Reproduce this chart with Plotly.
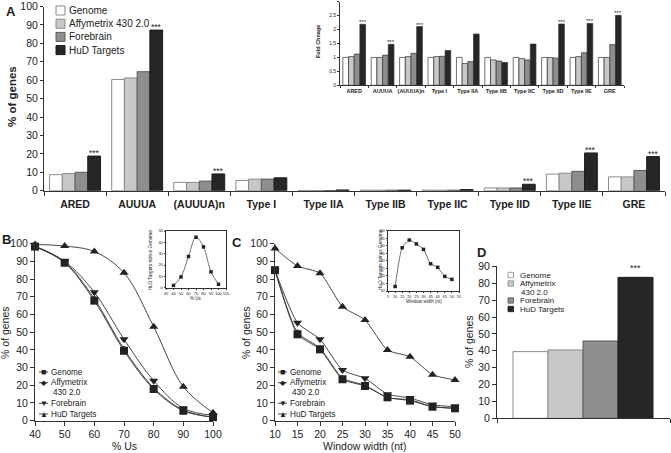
import plotly.graph_objects as go

FONT = "Liberation Sans, Arial, Helvetica, sans-serif"
W, H = 671, 453
INK = "#222222"


def px(x):
    return x / W


def py(y):
    return 1 - y / H


# ---------------- data ----------------
categories = ["ARED", "AUUUA", "(AUUUA)n", "Type I", "Type IIA", "Type IIB",
              "Type IIC", "Type IID", "Type IIE", "GRE"]
series_names = ["Genome", "Affymetrix 430 2.0", "Forebrain", "HuD Targets"]

pct_genome = [8.7, 60.4, 4.5, 5.6, 0.1, 0.3, 0.3, 1.5, 9.0, 7.5]
pct_affy = [9.3, 61.2, 4.5, 6.3, 0.1, 0.3, 0.3, 1.5, 9.5, 7.5]
pct_fore = [10.0, 64.6, 5.2, 6.3, 0.1, 0.3, 0.3, 1.5, 10.5, 11.0]
pct_hud = [18.8, 87.2, 9.1, 7.0, 0.4, 0.3, 0.6, 3.5, 20.5, 18.5]
sig_A = [True, True, True, False, False, False, False, True, True, True]

fold_genome = [1.0, 1.0, 1.0, 1.0, 1.0, 1.0, 1.0, 1.0, 1.0, 1.0]
fold_affy = [1.03, 1.0, 1.03, 1.03, 0.78, 0.91, 0.96, 1.0, 1.03, 1.0]
fold_fore = [1.12, 1.08, 1.15, 1.04, 0.85, 0.87, 0.91, 0.98, 1.17, 1.46]
fold_hud = [2.19, 1.47, 2.11, 1.25, 1.84, 0.82, 1.48, 2.2, 2.22, 2.51]
sig_fold = [True, True, True, False, False, False, False, True, True, True]

us = [40, 50, 60, 70, 80, 90, 100]
b_genome = [98.3, 89.2, 67.8, 39.5, 17.9, 5.6, 2.0]
b_affy = [98.3, 89.6, 68.8, 40.5, 18.6, 6.0, 2.0]
b_fore = [98.6, 90.0, 72.5, 46.0, 22.6, 7.0, 3.0]
b_hud = [99.5, 98.6, 95.5, 83.5, 53.1, 19.2, 4.5]
b_diff = [2.0, 9.5, 27.5, 44.5, 36.0, 14.0, 3.0]

ww = [10, 15, 20, 25, 30, 35, 40, 45, 50]
c_genome = [85.0, 48.8, 40.3, 23.4, 19.6, 13.2, 11.3, 7.9, 7.0]
c_affy = [85.0, 49.8, 41.0, 24.0, 20.0, 13.0, 11.8, 8.0, 7.0]
c_fore = [85.0, 55.3, 46.0, 28.6, 23.9, 15.0, 12.8, 9.0, 7.9]
c_hud = [97.3, 87.3, 83.3, 64.4, 56.9, 39.9, 36.1, 26.0, 23.0]
c_diff = [13.0, 38.7, 43.8, 41.2, 37.6, 28.1, 25.7, 19.7, 17.7]

d_category = ["ARE"]
d_vals = [39.5, 40.5, 45.8, 83.5]
sig_D = [False, False, False, True]

# ---------------- styles ----------------
fills = ["#ffffff", "#c8c8c8", "#8e8e8e", "#262626"]
edges = ["#8a8a8a", "#8a8a8a", "#5a5a5a", "#1a1a1a"]

fig = go.Figure()

# Panel A main bars
bwA = 0.205
offA = [-0.41, -0.205, 0.0, 0.205]
for k, vals in enumerate([pct_genome, pct_affy, pct_fore, pct_hud]):
    fig.add_trace(go.Bar(x=categories, y=vals, width=bwA, offset=offA[k], name=series_names[k],
                         marker=dict(color=fills[k], line=dict(color=edges[k], width=1)),
                         xaxis="x", yaxis="y", showlegend=False))

# Inset A bars
bwI = 0.2
offI = [-0.4, -0.2, 0.0, 0.2]
for k, vals in enumerate([fold_genome, fold_affy, fold_fore, fold_hud]):
    fig.add_trace(go.Bar(x=categories, y=vals, width=bwI, offset=offI[k], name=series_names[k],
                         marker=dict(color=fills[k], line=dict(color="#333333", width=0.7)),
                         xaxis="x2", yaxis="y2", showlegend=False))

# Panel B lines
sym = ["square", "diamond", "triangle-down", "triangle-up"]
msz = [8, 5, 8, 8]
for k, vals in enumerate([b_genome, b_affy, b_fore, b_hud]):
    fig.add_trace(go.Scatter(x=us, y=vals, mode="lines+markers", name=series_names[k],
                             line=dict(color="#333333", width=0.9, shape="spline", smoothing=1),
                             marker=dict(symbol=sym[k], size=msz[k], color=INK),
                             cliponaxis=False, xaxis="x3", yaxis="y3", showlegend=False))
fig.add_trace(go.Scatter(x=us, y=b_diff, mode="lines+markers",
                         line=dict(color="#333333", width=0.7, shape="spline", smoothing=1),
                         marker=dict(symbol="square", size=3.5, color=INK),
                         cliponaxis=False, xaxis="x4", yaxis="y4", showlegend=False))

# Panel C lines
for k, vals in enumerate([c_genome, c_affy, c_fore, c_hud]):
    fig.add_trace(go.Scatter(x=ww, y=vals, mode="lines+markers", name=series_names[k],
                             line=dict(color="#333333", width=0.9, shape="spline", smoothing=0.6),
                             marker=dict(symbol=sym[k], size=msz[k], color=INK),
                             cliponaxis=False, xaxis="x5", yaxis="y5", showlegend=False))
fig.add_trace(go.Scatter(x=ww, y=c_diff, mode="lines+markers",
                         line=dict(color="#333333", width=0.7, shape="spline", smoothing=0.6),
                         marker=dict(symbol="square", size=3.5, color=INK),
                         cliponaxis=False, xaxis="x6", yaxis="y6", showlegend=False))

# Panel D bars
bwD = 0.2023
offD = [-0.4075, -0.4075 + bwD, -0.4075 + 2 * bwD, -0.4075 + 3 * bwD]
for k, v in enumerate(d_vals):
    fig.add_trace(go.Bar(x=d_category, y=[v], width=bwD, offset=offD[k], name=series_names[k],
                         marker=dict(color=fills[k], line=dict(color=edges[k], width=1)),
                         xaxis="x7", yaxis="y7", showlegend=False))


def axis(domain, **kw):
    d = dict(domain=domain, showline=True, linecolor="#333333", linewidth=1, ticks="outside",
             tickcolor="#333333", showgrid=False, zeroline=False, automargin=False, tickangle=0,
             tickfont=dict(family=FONT, size=10.5, color=INK), fixedrange=True)
    d.update(kw)
    return d


small = dict(family=FONT, size=5.5, color=INK, weight="bold")
tiny = dict(family=FONT, size=4, color=INK)

layout = dict(
    width=W, height=H, margin=dict(l=0, r=0, t=0, b=0),
    paper_bgcolor="white", plot_bgcolor="rgba(0,0,0,0)",
    barmode="overlay", showlegend=False,
    font=dict(family=FONT, color=INK),
    xaxis=axis([px(44), px(665)], type="category", range=[-0.5, 9.5], tickson="boundaries",
               ticklen=4, ticklabelstandoff=4,
               tickfont=dict(family=FONT, size=10.5, color=INK, weight="bold"), anchor="y"),
    yaxis=axis([py(190.7), py(6.5)], range=[0, 100], dtick=10, ticklen=3, anchor="x"),
    xaxis2=axis([px(340), px(624)], type="category", range=[-0.5, 9.5], tickson="boundaries",
                ticklen=2, linewidth=0.8, tickfont=small, anchor="y2"),
    yaxis2=axis([py(85.3), py(1.7)], range=[0, 3], dtick=0.5, ticklen=2, linewidth=0.8,
                tickfont=dict(family=FONT, size=5, color=INK), anchor="x2"),
    xaxis3=axis([px(35), px(213)], range=[40, 100], dtick=10, ticklen=4, anchor="y3"),
    yaxis3=axis([py(420.7), py(243.6)], range=[0, 100], dtick=10, ticklen=4, anchor="x3"),
    xaxis4=axis([px(166), px(226)], range=[30, 110], dtick=10, ticklen=1.5, linewidth=0.7,
                mirror=True, tickfont=tiny, anchor="y4"),
    yaxis4=axis([py(287.7), py(231)], range=[0, 50], dtick=10, ticklen=1.5, linewidth=0.7,
                mirror=True, tickfont=tiny, anchor="x4"),
    xaxis5=axis([px(275), px(455)], range=[10, 50], dtick=5, ticklen=4, anchor="y5"),
    yaxis5=axis([py(420.7), py(243.6)], range=[0, 100], dtick=10, ticklen=4, anchor="x5"),
    xaxis6=axis([px(388), px(459)], range=[5, 55], dtick=5, ticklen=1.5, linewidth=0.7,
                mirror=True, tickfont=tiny, anchor="y6"),
    yaxis6=axis([py(291), py(230.7)], range=[10, 50], dtick=5, ticklen=1.5, linewidth=0.7,
                mirror=True, tickfont=tiny, anchor="x6"),
    xaxis7=axis([px(497), px(670)], type="category", range=[-0.5, 0.5], tickson="boundaries",
                ticklen=4, showticklabels=False, anchor="y7"),
    yaxis7=axis([py(418.3), py(266.4)], range=[0, 90], dtick=10, ticklen=4, anchor="x7"),
)
fig.update_layout(**layout)

ann = []
shapes = []


def text(x, y, t, size, bold=False, anchor="center", angle=0, **kw):
    f = dict(family=FONT, size=size, color=INK)
    if bold:
        f["weight"] = "bold"
    ann.append(dict(x=px(x), y=py(y), xref="paper", yref="paper", text=t, showarrow=False,
                    xanchor=anchor, yanchor="middle", textangle=angle, font=f, **kw))


# panel letters
text(11, 11, "A", 13, True)
text(6, 239, "B", 13, True)
text(237, 243, "C", 13, True)
text(481, 253, "D", 13, True)

# axis titles
text(12, 97, "% of genes", 11.5, True, angle=-90)
text(318, 42, "Fold Chnage", 5.5, True, angle=-90)
text(5, 333, "% of genes", 10.5, angle=-90)
text(124, 446, "% Us", 10.5)
text(149.5, 260, "HuD Targets minus Genome", 4.8, angle=-90)
text(196, 298, "% Us", 4.5)
text(246, 333, "% of genes", 10.5, angle=-90)
text(364, 446, "Window width (nt)", 10.5)
text(380, 260, "HuD Targets minus Genome", 4.8, angle=-90)
text(423.5, 301.5, "Window width (nt)", 4.5)
text(469, 342, "% of genes", 10.5, angle=-90)

# significance stars
for i, s in enumerate(sig_A):
    if s:
        ann.append(dict(x=i + offA[3] + bwA / 2, y=pct_hud[i], xref="x", yref="y", text="***",
                        showarrow=False, yanchor="bottom", yshift=-3, borderpad=0,
                        font=dict(family=FONT, size=8.5, color=INK)))
for i, s in enumerate(sig_fold):
    if s:
        ann.append(dict(x=i + offI[3] + bwI / 2, y=fold_hud[i], xref="x2", yref="y2", text="***",
                        showarrow=False, yanchor="bottom", yshift=-2, borderpad=0,
                        font=dict(family=FONT, size=6, color=INK)))
for k, s in enumerate(sig_D):
    if s:
        ann.append(dict(x=offD[k] + bwD / 2, y=d_vals[k], xref="x7", yref="y7", text="***",
                        showarrow=False, yanchor="bottom", yshift=3, borderpad=0,
                        font=dict(family=FONT, size=9, color=INK)))

# legend A
for k, name in enumerate(series_names):
    yc = 10.5 + 13.2 * k
    shapes.append(dict(type="rect", xref="paper", yref="paper", x0=px(56), x1=px(65),
                       y0=py(yc + 4.5), y1=py(yc - 4.5), fillcolor=fills[k],
                       line=dict(color=edges[k], width=1)))
    text(68, yc, name, 10, anchor="left", borderpad=0)

# legend D
d_leg_y = [275, 283.5, 300.5, 309]
for k, name in enumerate(series_names):
    yc = d_leg_y[k]
    shapes.append(dict(type="rect", xref="paper", yref="paper", x0=px(508), x1=px(513.5),
                       y0=py(yc + 2.7), y1=py(yc - 2.7), fillcolor=fills[k],
                       line=dict(color=edges[k], width=0.8)))
    label = "Affymetrix" if k == 1 else name
    text(517.5, yc, label, 8, anchor="left")
text(519, 292, "430 2.0", 8, anchor="left")

# legends B & C
leg_y = [372, 382.7, 403.3, 414]
glyph = ["■", "◆", "▼", "▲"]
gsize = [9, 7, 8, 8]
for x0 in (39, 278):
    for k, name in enumerate(series_names):
        yc = leg_y[k]
        shapes.append(dict(type="line", xref="paper", yref="paper", x0=px(x0), x1=px(x0 + 9),
                           y0=py(yc), y1=py(yc), line=dict(color="#333333", width=0.9)))
        text(x0 + 4.5, yc, glyph[k], gsize[k])
        label = "Affymetrix" if k == 1 else name
        text(x0 + 10, yc, label, 8.2, anchor="left")
    text(x0 + 12, 392.7, "430 2.0", 8.2, anchor="left")

fig.update_layout(annotations=ann, shapes=shapes)
fig.write_html(
    "out.html",
    config={"displayModeBar": False},
    post_script="document.body.style.margin='0';document.body.style.padding='0';"
                "document.documentElement.style.overflow='hidden';",
)
